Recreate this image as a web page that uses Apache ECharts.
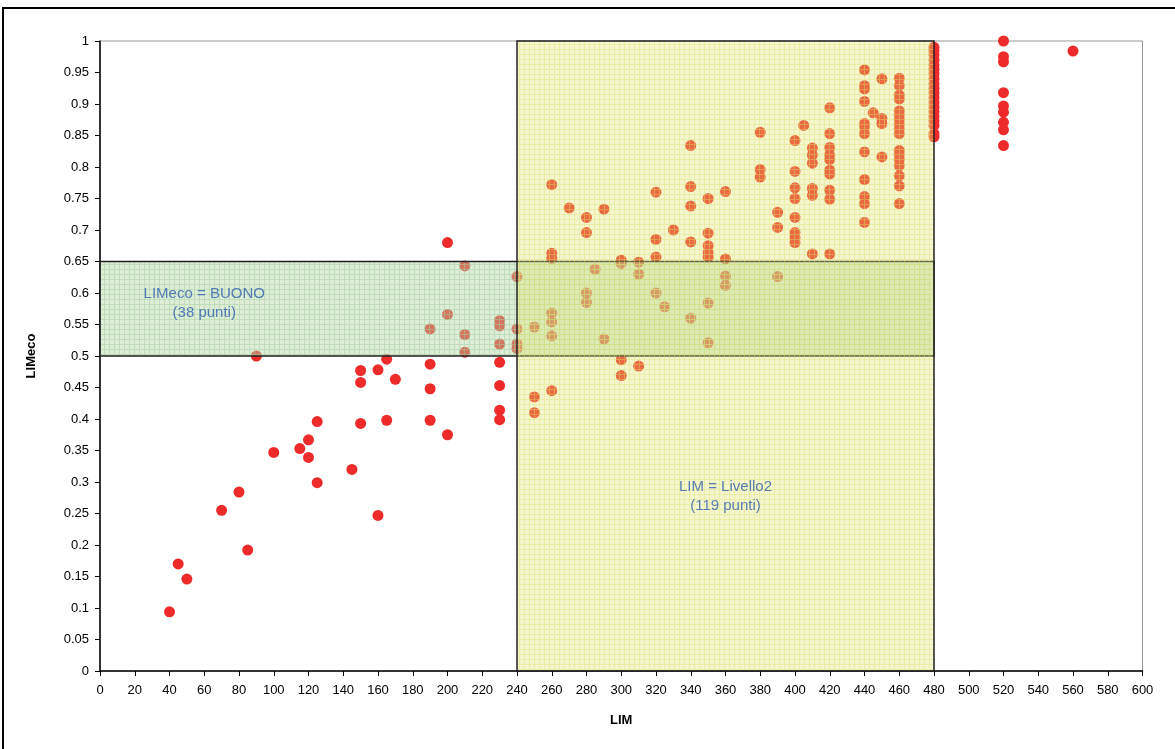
<!DOCTYPE html>
<html><head><meta charset="utf-8">
<script src="https://cdn.jsdelivr.net/npm/echarts@6/dist/echarts.min.js"></script>
<style>html,body{margin:0;padding:0;background:#fff}#c{width:1175px;height:749px}</style>
</head><body><div id="c"></div>
<script>
// LIM values (x) and LIMeco values (y), one entry per station
const limLow = [40,45,50,70,80,85,90,100,115,120,120,125,125,145,150,150,150,160,160,165,165,170,190,190,190,190,200,200,200,210,210,210,230,230,230,230,230,230,230];
const limecoLow = [0.094,0.170,0.146,0.255,0.284,0.192,0.500,0.347,0.353,0.367,0.339,0.396,0.299,0.320,0.477,0.458,0.393,0.478,0.247,0.495,0.398,0.463,0.543,0.487,0.448,0.398,0.680,0.566,0.375,0.643,0.534,0.506,0.556,0.548,0.519,0.490,0.453,0.414,0.399];

const limMid = [240,240,240,240,250,250,250,260,260,260,260,260,260,260,270,280,280,280,280,285,290,290,300,300,300,300,310,310,310,320,320,320,320,325,330,340,340,340,340,340,350,350,350,350,350,350,350,360,360,360,360,380,380,380,390,390,390];
const limecoMid = [0.626,0.543,0.519,0.512,0.546,0.435,0.410,0.772,0.663,0.655,0.568,0.554,0.532,0.445,0.735,0.720,0.696,0.600,0.585,0.638,0.733,0.527,0.652,0.647,0.494,0.469,0.649,0.630,0.484,0.760,0.685,0.657,0.600,0.578,0.700,0.834,0.769,0.738,0.681,0.560,0.750,0.695,0.675,0.664,0.657,0.584,0.521,0.761,0.654,0.627,0.612,0.855,0.796,0.784,0.728,0.704,0.626];

const limHigh = [400,400,400,400,400,400,400,400,405,410,410,410,410,410,410,420,420,420,420,420,420,420,420,420,420,440,440,440,440,440,440,440,440,440,440,440,440,445,450,450,450,450,460,460,460,460,460,460,460,460,460,460,460,460,460,460,460,460,460];
const limecoHigh = [0.842,0.793,0.767,0.750,0.720,0.696,0.688,0.680,0.866,0.830,0.819,0.806,0.766,0.755,0.662,0.894,0.853,0.831,0.819,0.812,0.795,0.789,0.763,0.749,0.662,0.954,0.929,0.924,0.904,0.869,0.864,0.853,0.824,0.780,0.753,0.742,0.712,0.886,0.940,0.877,0.869,0.816,0.941,0.929,0.914,0.908,0.889,0.882,0.875,0.868,0.861,0.853,0.826,0.820,0.812,0.802,0.786,0.770,0.742];

const limTop = [480,480,480,480,480,480,480,480,480,480,480,480,480,480,480,480,480,480,480,480,520,520,520,520,520,520,520,520,520,560];
const limecoTop = [0.990,0.985,0.978,0.970,0.962,0.955,0.948,0.940,0.932,0.925,0.918,0.910,0.902,0.895,0.888,0.880,0.873,0.866,0.853,0.848,1.000,0.975,0.967,0.918,0.897,0.887,0.871,0.859,0.834,0.984];

// Classification boxes
const buonoLim = [0, 480], buonoLimeco = [0.5, 0.65];
const livLim = [240, 480], livLimeco = [0, 1];
const buonoText = 'LIMeco = BUONO\n(38 punti)';
const livText = 'LIM = Livello2\n(119 punti)';

const lim = [].concat(limLow, limMid, limHigh, limTop);
const limeco = [].concat(limecoLow, limecoMid, limecoHigh, limecoTop);
const points = lim.map((x, i) => [x, limeco[i]]);

function pattern(base, line) {
  const c = document.createElement('canvas');
  c.width = 5; c.height = 5;
  const g = c.getContext('2d');
  g.fillStyle = base; g.fillRect(0, 0, 5, 5);
  g.fillStyle = line; g.fillRect(0, 4, 5, 1); g.fillRect(4, 0, 1, 4);
  return { image: c, repeat: 'repeat' };
}

const FONT = '"Liberation Sans Narrow", "Liberation Sans", Arial, sans-serif';
const chart = echarts.init(document.getElementById('c'), null, { renderer: 'canvas' });
chart.setOption({
  animation: false,
  backgroundColor: '#fff',
  graphic: [{
    type: 'rect', silent: true, z: 100,
    shape: { x: 3, y: 8, width: 1200, height: 800 },
    style: { fill: null, stroke: '#000', lineWidth: 2 }
  }],
  grid: { left: 100, top: 41, width: 1042.5, height: 630, show: true, borderColor: '#999', borderWidth: 1 },
  xAxis: {
    type: 'value', min: 0, max: 600, interval: 20,
    name: 'LIM', nameLocation: 'middle', nameGap: 43,
    nameTextStyle: { fontFamily: FONT, fontWeight: 'bold', fontSize: 13, color: '#000' },
    axisLine: { show: true, onZero: false, lineStyle: { color: '#000', width: 1.5 } },
    axisTick: { show: true, inside: false, length: 5, lineStyle: { color: '#000' } },
    axisLabel: { fontFamily: FONT, fontSize: 13, color: '#000', margin: 13 },
    splitLine: { show: false }
  },
  yAxis: {
    type: 'value', min: 0, max: 1, interval: 0.05,
    name: 'LIMeco', nameLocation: 'middle', nameGap: 62, nameRotate: 90,
    nameTextStyle: { fontFamily: FONT, fontWeight: 'bold', fontSize: 13, color: '#000' },
    axisLine: { show: true, onZero: false, lineStyle: { color: '#000', width: 1.5 } },
    axisTick: { show: true, inside: false, length: 5, lineStyle: { color: '#000' } },
    axisLabel: { fontFamily: FONT, fontSize: 13, color: '#000', margin: 11 },
    splitLine: { show: false }
  },
  series: [
    {
      type: 'scatter', z: 2, data: points, symbolSize: 11,
      itemStyle: { color: '#ee2b2b', opacity: 1 }
    },
    {
      type: 'line', z: 5, data: [], silent: true,
      markArea: {
        silent: true, z: 8,
        data: [
          [{ xAxis: buonoLim[0], yAxis: buonoLimeco[0],
             itemStyle: { color: pattern('rgba(178,213,167,0.44)', 'rgba(165,206,155,0.52)'), borderColor: '#222', borderWidth: 1.5 } },
           { xAxis: buonoLim[1], yAxis: buonoLimeco[1] }],
          [{ xAxis: livLim[0], yAxis: livLimeco[0],
             itemStyle: { color: pattern('rgba(226,229,115,0.34)', 'rgba(220,224,105,0.42)'), borderColor: '#222', borderWidth: 1.5 } },
           { xAxis: livLim[1], yAxis: livLimeco[1] }]
        ]
      }
    },
    {
      type: 'scatter', z: 10, silent: true, symbolSize: 0,
      data: [
        { value: [60, 0.583], label: { formatter: buonoText } },
        { value: [360, 0.278], label: { formatter: livText } }
      ],
      label: {
        show: true, position: 'inside', align: 'center', verticalAlign: 'middle',
        fontFamily: '"Liberation Sans", Arial, sans-serif', fontSize: 15, lineHeight: 19, color: '#2f5fae'
      }
    }
  ]
});
</script></body></html>
